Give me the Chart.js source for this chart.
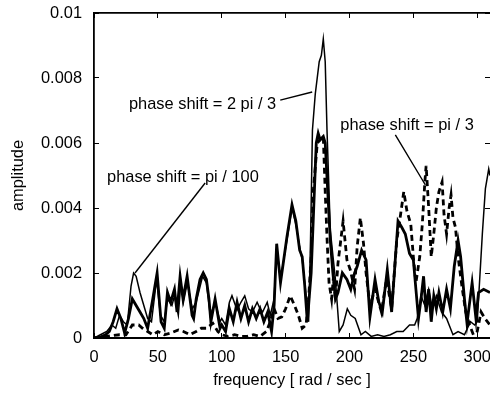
<!DOCTYPE html>
<html><head><meta charset="utf-8">
<script src="https://cdn.jsdelivr.net/npm/chart.js@4.4.0/dist/chart.umd.min.js"></script>
<style>html,body{margin:0;padding:0;background:#fff;overflow:hidden}#c{display:block}</style>
</head><body>
<canvas id="c" width="490" height="393"></canvas>
<script>
// ---- data (frequency [rad/sec], amplitude) ----
const xTicks = [0, 50, 100, 150, 200, 250, 300];
const yTicks = [0, 0.002, 0.004, 0.006, 0.008, 0.01];

const seriesThin = [
 [0,0],[5,.0001],[10,.0002],[14,.0004],[17,.0003],[20,.0007],[23,.0005],[26,.0004],[29,.0016],[31,.002],[33,.0019],[36,.0014],[39,.001],[42,.0006],[45,.0005],
 [49,.0018],[52,.0007],[55,.0005],[57.5,.0012],[61,.001],[63,.0013],[66,.0007],[68,.0017],[70,.0011],[73,.0017],[77,.0009],[80,.0011],[85,.0019],[88,.0017],[91,.0007],[95,.0011],[98.7,.0005],
 [100,.0006],[103,.0004],[106,.0011],[108,.0013],[112,.00086],[115,.0011],[118,.0013],[121,.0009],[124,.0008],[127.7,.0011],[130,.0009],[132,.0008],[135.6,.0011],[138,.0007],
 [141,.0012],[143,.0028],[146,.0018],[151,.003],[155,.004],[158,.0035],[161,.0028],[163,.0024],[165,.0017],[168,.0005],[169.5,.003],[171,.0064],[173.2,.0075],[176.3,.0085],[178,.0087],[179.5,.0092],[181,.0085],[182.4,.0064],
 [185,.0033],[189,.0018],[192,.0002],[195,.0004],[198.3,.0009],[201,.0007],[204.5,.0006],[209,.0001],[212.4,.0002],[217,.00005],[222,.0001],[227,.00005],[232,.0001],[237,.0002],[242,.0002],[247,.0004],[251,.0004],[253,.0006],
 [256,.0013],[259,.001],[262,.0015],[265,.0009],[268,.0013],[272,.0008],[276,.0006],[281,.0001],[285,.0002],[290,.0001],[294.7,.0005],[298,.0004],[300,.0005],[304,.0032],[306.4,.0046],[309,.0052],[310,.005]
];

const seriesThick = [
 [0,0],[5,.00003],[9,.0001],[12,.0002],[15,.0005],[18,.0009],[21,.0006],[24,.00015],[27,.0006],[30,.0012],[33,.001],[36,.0008],[39,.0006],[42,.0003],[46,.0012],[49.4,.002],[52.5,.0005],[55,.0003],
 [57.5,.0014],[60,.0011],[63,.0015],[65,.0008],[67.4,.0019],[69.7,.0012],[72.9,.0019],[76.8,.0007],[78,.0006],[80,.0012],[83,.0018],[85.5,.002],[88,.0018],[90,.0012],[91.5,.0005],[94.8,.0012],[98.7,.0003],
 [100,.0004],[103,.0002],[106,.0009],[109,.0005],[112,.0011],[115,.0006],[118,.001],[121,.0005],[124,.0009],[127,.0006],[130,.0009],[133,.0005],[136,.0008],[139,.0002],
 [141,.001],[143,.0029],[146,.0017],[151,.0031],[155,.0041],[158,.0036],[161,.0027],[163,.0025],[165,.0016],[167,.0005],[170,.002],[172,.004],[174,.006],[175.5,.0063],[177,.0061],[179.5,.0062],[181,.006],[183,.0045],
 [185,.003],[187,.002],[189,.0012],[191,.0014],[194.4,.002],[198,.0018],[201,.0015],[204,.002],[206,.0022],[209.5,.0027],[213,.0024],[216,.00065],[220,.0018],[223,.0011],[225.7,.0008],[229.6,.0021],[233,.0008],[236,.0025],[238,.0036],
 [241,.0034],[243.7,.0032],[247,.0026],[250,.0024],[252,.0015],[254,.0006],[256,.0012],[258,.0019],[260,.0008],[262,.0015],[264,.0005],[266,.0013],[268,.0009],[270,.0014],[273,.0008],[276,.0015],[279,.0009],[282,.0022],
 [285,.003],[287,.0025],[290,.0012],[292,.00045],[296,.0017],[299,.0006],[301,.0014],[305,.0015],[310,.0014]
];

const seriesDashed = [
 [0,0],[10,.00005],[20,.0001],[25,.0001],[30,.0004],[35,.0004],[38,.0003],[42,.0002],[46,.0001],[50,.0002],[55,.0001],[60,.00015],[66,.00025],[70,.0002],[75,.0001],[80,.0002],[84,.0003],[88,.0003],[93,.00045],[97,.0002],
 [100,.0001],[105,.00005],[110,.0001],[115,.00005],[120,.00005],[125,.0001],[130,.00005],[135,.0002],[138,.0005],[141,.0009],[144,.0006],[147,.00065],[150,.0009],[153.6,.0013],[157,.001],[160,.0007],[163,.0003],[166,.0004],
 [168,.0012],[170,.0025],[171.6,.0045],[174.8,.006],[177,.0061],[179.5,.0062],[181,.0045],[182.5,.003],[184,.0017],[186,.0012],[187.5,.0019],[189,.0012],[191,.0023],[195,.0036],[198,.0024],[200.6,.0021],[204,.0015],
 [206,.0028],[208.5,.0037],[211,.0029],[213,.002],[216,.001],[220,.0015],[225,.0008],[229,.0018],[233,.0009],[237,.003],[240,.0038],[242.5,.0045],[245,.0039],[248,.0035],[250,.0025],[252,.0017],[255,.0025],[257,.0035],
 [259,.0048],[260,.0053],[262,.004],[264,.0025],[266,.0032],[268,.004],[270,.0045],[272.5,.0048],[274,.0038],[276,.0032],[278,.004],[279.5,.0044],[281,.0037],[283,.0034],[285,.0025],[288,.0016],[291,.0008],[294,.0004],
 [297,.0001],[300,.0002],[303,.0008],[306,.0006],[310,.0004]
];

// annotation texts with leader lines (in data coordinates)
const labelTexts = ['phase shift = 2 pi / 3', 'phase shift = pi / 3', 'phase shift = pi / 100'];
const labelAnchors = [[27.4, 0.00717], [192.8, 0.00655], [10.2, 0.00495]];
const leaderPaths = [
  [[145.8, 0.00732], [170.8, 0.00757]],
  [[235.9, 0.00625], [256.5, 0.0049], [259.4, 0.00471]],
  [[87, 0.00477], [32.1, 0.002]]
];

const FONT = '"Liberation Sans", Arial, Helvetica, sans-serif';
const toXY = s => s.map(p => ({x: p[0], y: p[1]}));

const annotPlugin = {
  id: 'annot',
  afterDatasetsDraw(chart) {
    const {ctx, scales: {x, y}} = chart;
    ctx.save();
    ctx.fillStyle = '#000';
    ctx.strokeStyle = '#000';
    ctx.font = '16.4px ' + FONT;
    ctx.textAlign = 'left';
    ctx.textBaseline = 'middle';
    labelTexts.forEach((t, i) => {
      const a = labelAnchors[i];
      ctx.fillText(t, x.getPixelForValue(a[0]), y.getPixelForValue(a[1]));
      ctx.lineWidth = 1.4;
      ctx.beginPath();
      leaderPaths[i].forEach((p, j) => {
        const px = x.getPixelForValue(p[0]), py = y.getPixelForValue(p[1]);
        j ? ctx.lineTo(px, py) : ctx.moveTo(px, py);
      });
      ctx.stroke();
    });
    ctx.restore();
  }
};

const tickFont = {family: FONT, size: 16.4};
const common = {min: 0, type: 'linear'};
const noPadH = h => s => { s.height = h; s.paddingLeft = 0; s.paddingRight = 0; s.paddingTop = 0; s.paddingBottom = 0; };
const noPadW = w => s => { s.width = w; s.paddingLeft = 0; s.paddingRight = 0; s.paddingTop = 0; s.paddingBottom = 0; };

new Chart(document.getElementById('c'), {
  type: 'line',
  data: {
    datasets: [
      {label: 'thin', data: toXY(seriesThin), borderColor: '#000', borderWidth: 1.5, pointRadius: 0, tension: 0, fill: false},
      {label: 'thick', data: toXY(seriesThick), borderColor: '#000', borderWidth: 2.8, pointRadius: 0, tension: 0, fill: false},
      {label: 'dashed', data: toXY(seriesDashed), borderColor: '#000', borderWidth: 2.8, borderDash: [6, 4], pointRadius: 0, tension: 0, fill: false}
    ]
  },
  options: {
    responsive: false,
    animation: false,
    devicePixelRatio: 1,
    layout: {padding: {top: 13, right: 0, left: 0, bottom: 0}},
    plugins: {legend: {display: false}, tooltip: {enabled: false}},
    scales: {
      x: {
        ...common, max: 310, position: 'bottom',
        afterBuildTicks: s => { s.ticks = xTicks.map(v => ({value: v})); },
        afterFit: noPadH(55),
        ticks: {font: tickFont, color: '#000', padding: 15, maxRotation: 0, autoSkip: false, callback: v => String(v)},
        grid: {drawOnChartArea: false, drawTicks: true, tickLength: -5, color: '#000', lineWidth: 1},
        border: {display: true, color: '#000', width: 2},
        title: {display: true, text: 'frequency [ rad / sec ]', font: tickFont, color: '#000', padding: {top: 0, bottom: 3}}
      },
      y: {
        ...common, max: 0.01, position: 'left',
        afterBuildTicks: s => { s.ticks = yTicks.map(v => ({value: v})); },
        afterFit: noPadW(94),
        ticks: {font: tickFont, color: '#000', padding: 17, autoSkip: false, callback: v => String(v)},
        grid: {drawOnChartArea: false, drawTicks: true, tickLength: -5, color: '#000', lineWidth: 1},
        border: {display: true, color: '#000', width: 1.8},
        title: {display: true, text: 'amplitude', font: tickFont, color: '#000', padding: {top: 9, bottom: 0}}
      },
      x2: {
        ...common, max: 310, position: 'top',
        afterBuildTicks: s => { s.ticks = xTicks.map(v => ({value: v})); },
        afterFit: noPadH(0),
        ticks: {display: false},
        grid: {drawOnChartArea: false, drawTicks: true, tickLength: -5, color: '#000', lineWidth: 1},
        border: {display: true, color: '#000', width: 1.8}
      },
      y2: {
        ...common, max: 0.01, position: 'right',
        afterBuildTicks: s => { s.ticks = yTicks.map(v => ({value: v})); },
        afterFit: noPadW(0),
        ticks: {display: false},
        grid: {drawOnChartArea: false, drawTicks: true, tickLength: -5, color: '#000', lineWidth: 1},
        border: {display: false}
      }
    }
  },
  plugins: [annotPlugin]
});
</script>
</body></html>
